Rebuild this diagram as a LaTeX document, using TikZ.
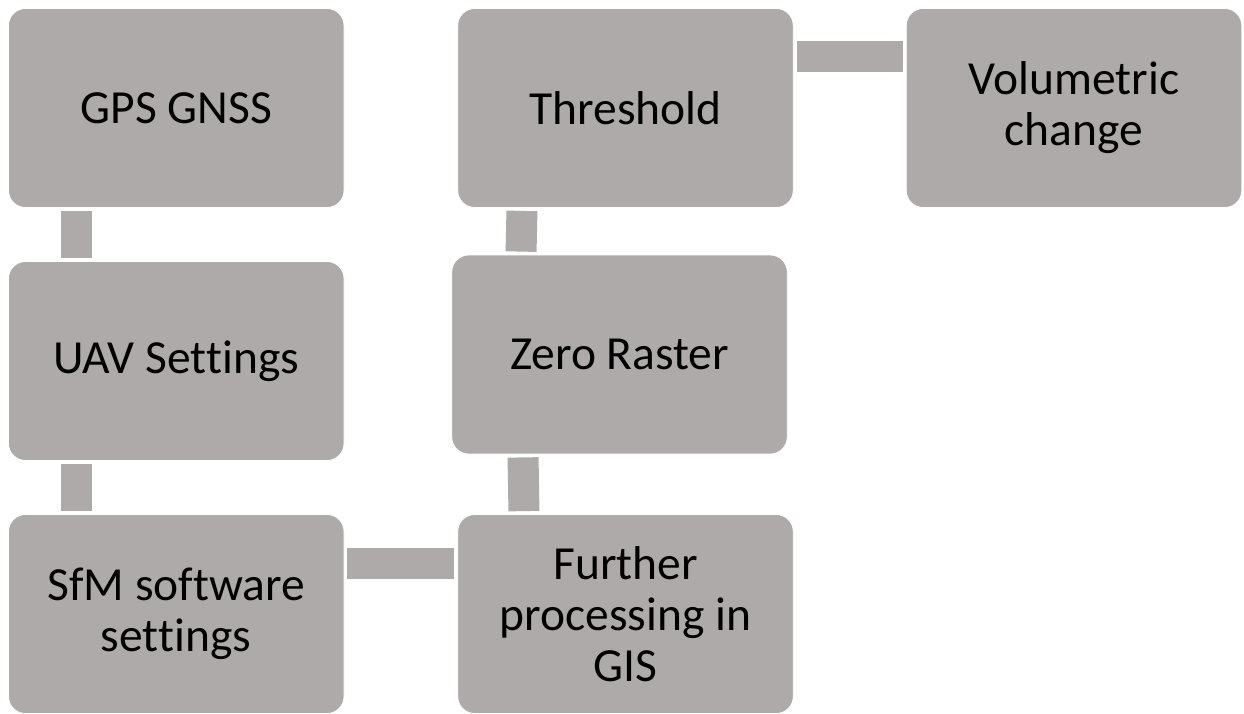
\documentclass[tikz,border=0pt]{standalone}
\usepackage{fontspec}
\setmainfont[RawFeature={-liga;-calt;-clig}]{Carlito}
\definecolor{boxgray}{HTML}{AEAAAA}
\newcommand{\nl}{\kern0pt }
\begin{document}
\begin{tikzpicture}[x=1pt,y=-1pt,
  box/.style={rectangle,rounded corners=17pt,fill=boxgray,draw=white,line width=0.8pt,
    minimum width=335.5pt,minimum height=199pt,inner sep=0pt,align=center,
    font=\fontsize{47.5}{51}\selectfont,text=black},
  conn/.style={draw=boxgray,line width=31pt,line cap=butt,shorten <=3pt,shorten >=3pt}]
\useasboundingbox (0,0) rectangle (1244,713);
\node[box] (gps) at (176.25,108) {GPS GNSS};
\node[box] (uav) at (176.25,361) {UAV Set\nl t\nl ings};
\node[box] (sfm) at (176.25,614) {SfM software\\set\nl t\nl ings};
\node[box] (fur) at (625.5,614) {Further\\processing in\\GIS};
\node[box] (zero) at (619.5,354.5) {Zero Raster};
\node[box] (thr) at (625.5,108) {Threshold};
\node[box] (vol) at (1074,108) {Volumetric\\change};
\draw[conn] ([xshift=-99.75pt]gps.south) -- ([xshift=-99.75pt]uav.north);
\draw[conn] ([xshift=-99.75pt]uav.south) -- ([xshift=-99.75pt]sfm.north);
\draw[conn] ([yshift=50.5pt]sfm.east) -- ([yshift=50.5pt]fur.west);
\draw[conn] ([xshift=-101.5pt]fur.north) -- ([xshift=-96.5pt]zero.south);
\draw[conn] ([xshift=-98.5pt]zero.north) -- ([xshift=-103.5pt]thr.south);
\draw[conn] ([yshift=51.5pt]thr.east) -- ([yshift=51.5pt]vol.west);
\end{tikzpicture}
\end{document}
